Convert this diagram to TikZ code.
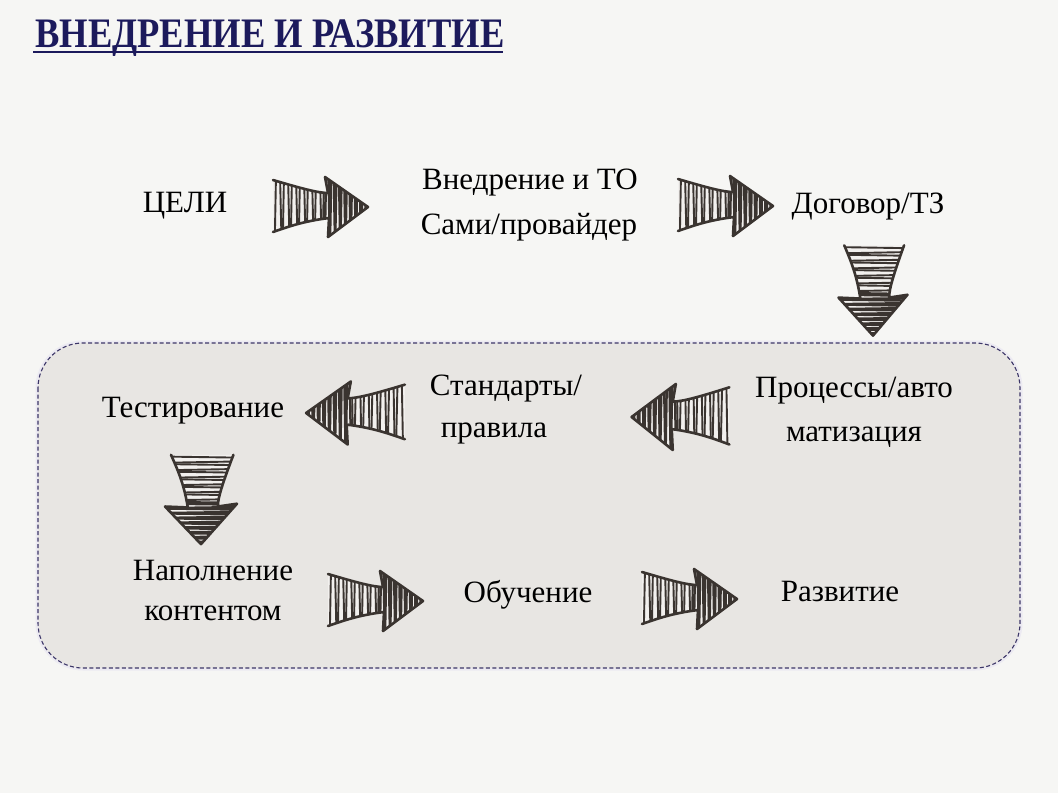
\documentclass[tikz,border=0pt]{standalone}
\usepackage{fontspec}
\setmainfont{Liberation Serif}
\definecolor{bgc}{HTML}{F6F6F4}
\definecolor{boxc}{HTML}{E8E6E3}
\definecolor{boxline}{HTML}{3C3668}
\definecolor{glow}{HTML}{ECEAF2}
\definecolor{navy}{HTML}{1C1A5C}
\definecolor{ink}{HTML}{3A3430}
\definecolor{skin}{HTML}{F2F0EE}
\tikzset{
  lbl/.style={font=\fontsize{31}{36}\selectfont, inner sep=0pt, anchor=center, text=black, yshift=-3pt},
  skfill/.style={fill=skin},
  skhatch/.style={draw=ink, line width=1.9pt},
  skhead/.style={draw=ink, line width=2.5pt},
  skline/.style={draw=ink, line width=2.6pt, line join=round, line cap=round},
  pics/sk/.style={code={
    \begin{scope}
      \clip (-47,-27) .. controls (-20,-19) and (-2,-14) .. (8,-14) -- (5,-30) -- (48,0) -- (8,30) -- (9,11) .. controls (-15,14) and (-30,19) .. (-47,25) -- cycle;
      \fill[skfill] (-50,-35) rectangle (50,35);
      \foreach \x [count=\i] in {-44,-40,...,4} {
        \pgfmathsetmacro{\dx}{mod(\i,2)==0 ? 1.5 : -1.2}
        \draw[skhatch] (\x,-32) -- (\x+\dx,32);
      }
      \foreach \x [count=\i] in {6,8.6,...,48} {
        \pgfmathsetmacro{\dx}{mod(\i,2)==0 ? 1.2 : -1.2}
        \draw[skhead] (\x,-32) -- (\x+\dx,32);
      }
    \end{scope}
    \draw[skline] (-47,-27) .. controls (-20,-19) and (-2,-14) .. (8,-14) -- (5,-30) -- (48,0) -- (8,30) -- (9,11) .. controls (-15,14) and (-30,19) .. (-47,25);
  }}
}
\begin{document}
\begin{tikzpicture}[x=1pt,y=-1pt]
  \fill[bgc] (0,0) rectangle (1058,793);
  \useasboundingbox (0,0) rectangle (1058,793);
  % title
  \node[font=\bfseries\fontsize{42}{46}\selectfont, text=navy, inner sep=0pt, anchor=base west] (title) at (35,47) {\scalebox{0.87}[1]{ВНЕДРЕНИЕ И РАЗВИТИЕ}};
  \draw[navy, line width=1.2pt] (33,52) -- (503,52);
  % box
  \draw[glow, line width=5pt, rounded corners=45pt] (38,343) rectangle (1020,668);
  \draw[boxline, fill=boxc, line width=1.1pt, dash pattern=on 4pt off 2.5pt, rounded corners=45pt] (38,343) rectangle (1020,668);
  % labels
  \node[lbl] (celi) at (185,203) {ЦЕЛИ};
  \node[lbl] (vn1) at (530,180) {Внедрение и ТО};
  \node[lbl] (vn2) at (529,224) {Сами/провайдер};
  \node[lbl] (dog) at (868,204) {Договор/ТЗ};
  \node[lbl] (pr1) at (854,388) {Процессы/авто};
  \node[lbl] (pr2) at (854,434) {матизация};
  \node[lbl] (st1) at (506,386) {Стандарты/};
  \node[lbl] (st2) at (494,430) {правила};
  \node[lbl] (test) at (193,408) {Тестирование};
  \node[lbl] (nap1) at (213,567) {Наполнение};
  \node[lbl] (nap2) at (213,610) {контентом};
  \node[lbl] (obu) at (528,592) {Обучение};
  \node[lbl] (raz) at (840,588) {Развитие};
  % sketch arrows
  \pic at (320,207) {sk};
  \pic at (725,206) {sk};
  \pic[rotate=-90, xscale=0.95, yscale=1.15] at (873,290) {sk};
  \pic[xscale=-1.03, yscale=1.1] at (681,417) {sk};
  \pic[xscale=-1.04, yscale=1.05] at (356,413) {sk};
  \pic[rotate=-90, xscale=0.94, yscale=1.2] at (201,499) {sk};
  \pic at (375,601) {sk};
  \pic at (689,599) {sk};
\end{tikzpicture}
\end{document}
